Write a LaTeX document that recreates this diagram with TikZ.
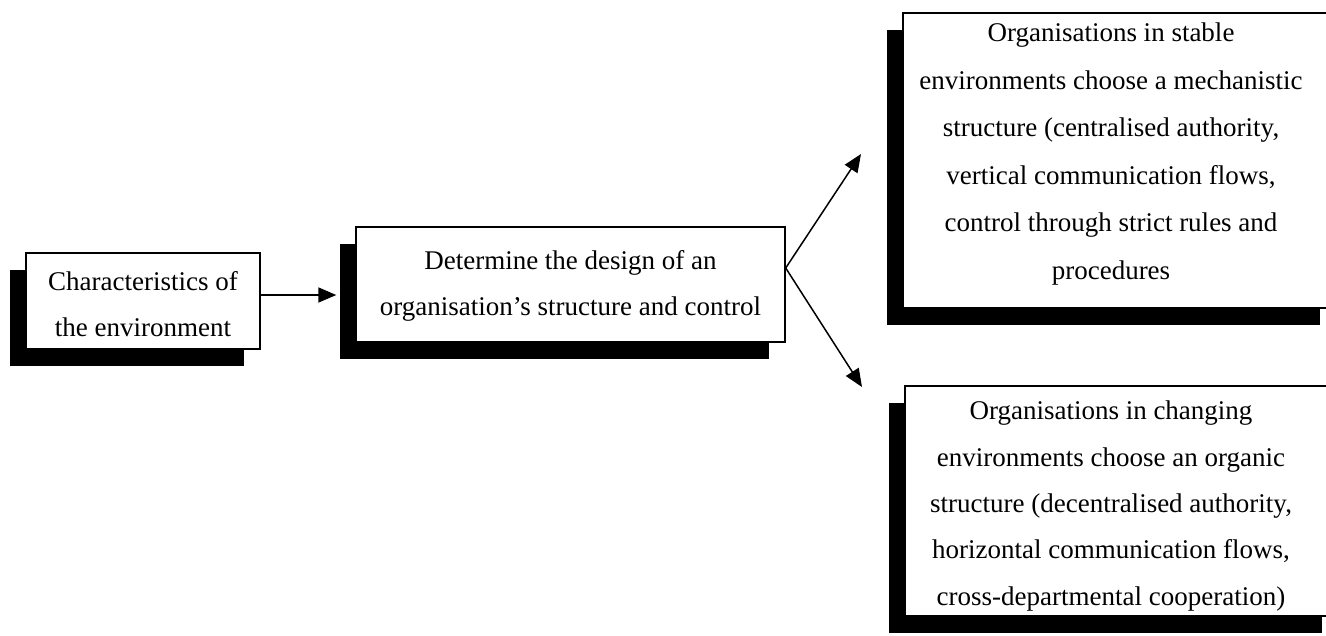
\documentclass[tikz,border=0pt]{standalone}
\usepackage{fontspec}
\setmainfont{Liberation Serif}
\usetikzlibrary{shadows,arrows.meta}
\begin{document}
\begin{tikzpicture}[x=1pt,y=-1pt,
  box/.style={draw=black, line width=1.4pt, fill=white, rectangle, inner sep=0pt,
    drop shadow={shadow xshift=-16pt, shadow yshift=-17pt, fill=black, opacity=1}},
  txt/.style={align=center, inner sep=0pt, font=\fontsize{27}{46.5}\selectfont},
  arr/.style={line width=1.5pt, -{Triangle[length=18pt,width=15pt]}}]
\useasboundingbox (0,0) rectangle (1326,635);
% boxes
\node[box, minimum width=234pt, minimum height=96pt] (env) at (143,301) {};
\node[box, minimum width=429pt, minimum height=115pt] (det) at (570.5,284.5) {};
\node[box, minimum width=433pt, minimum height=295pt] (mech) at (1119.5,160.5) {};
\node[box, minimum width=433pt, minimum height=230pt] (org) at (1121.5,501) {};
% texts
\node[txt] (envT) at (143,304) {Characteristics of\\the environment};
\node[txt] (detT) at (570.5,286) {Determine the design of an\\organisation's structure and control};
\node[txt, font=\fontsize{27}{47.5}\selectfont] (mechT) at (1111,154)
  {Organisations in stable\\environments choose a mechanistic\\structure (centralised authority,\\vertical communication flows,\\control through strict rules and\\procedures};
\node[txt, font=\fontsize{27}{46.3}\selectfont] (orgT) at (1111,506)
  {Organisations in changing\\environments choose an organic\\structure (decentralised authority,\\horizontal communication flows,\\cross-departmental cooperation)};
% connectors
\coordinate (fork) at (det.east |- 0,268);
\coordinate (upTip) at (861,154);
\coordinate (downTip) at (862,387);
\draw[arr, shorten >=19pt] ([yshift=6pt]env.east) -- ([yshift=6pt]env.east -| det.west);
\draw[arr] (fork) -- (upTip);
\draw[arr] (fork) -- (downTip);
\end{tikzpicture}
\end{document}
